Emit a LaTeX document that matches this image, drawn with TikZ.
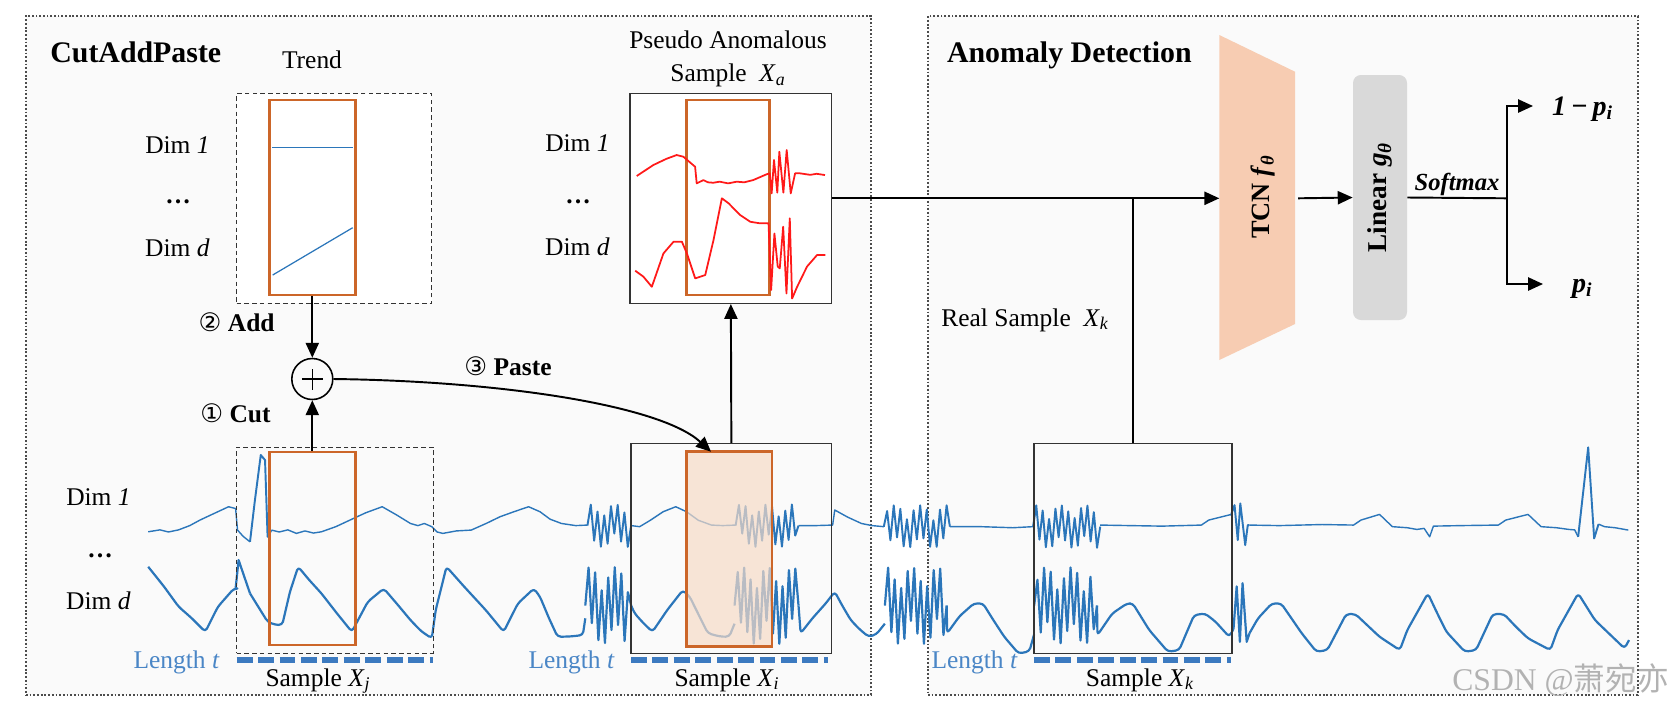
\documentclass[tikz,border=0pt]{standalone}
\usepackage{fontspec}
\setmainfont{Liberation Serif}
\newfontfamily\symfont{DejaVu Sans}
\newfontfamily\cjkfont{Noto Sans CJK SC}
\usetikzlibrary{arrows.meta,fit}
\definecolor{wblue}{RGB}{43,118,186}
\definecolor{lblue}{RGB}{74,134,198}
\definecolor{dblue}{RGB}{60,122,192}
\definecolor{oc}{RGB}{204,102,41}
\definecolor{peach}{RGB}{246,219,199}
\definecolor{tcnc}{RGB}{247,204,178}
\definecolor{linc}{RGB}{217,217,217}
\definecolor{bgc}{RGB}{250,250,250}
\definecolor{redw}{RGB}{255,25,25}
\newcommand\fs{\fontsize{14.5}{17}\selectfont}
\newcommand\fb{\fontsize{17}{20}\selectfont\bfseries}
\newcommand\mkburst[6]{%
  \pgfmathtruncatemacro\bn{(#2-#1)/3}%
  \pgfmathsetmacro\bs{(#2-#1)/\bn}%
  \pgfmathtruncatemacro\bm{\bn-1}%
  \draw[#5] (#1,#3) \foreach \k in {1,...,\bm}{ -- ({#1+\k*\bs},{#3+cos(180*\k)*#4*(0.3+0.7*abs(sin(\k*67+#6)))}) } -- (#2,#3);%
}
\begin{document}
\begin{tikzpicture}[x=0.02cm,y=-0.02cm,
  frame/.style={draw=black!70, line width=1pt, dash pattern=on 1pt off 1.1pt, fill=bgc, inner sep=0},
  dbox/.style={draw=black!80, dash pattern=on 2.6pt off 1.8pt, line width=0.5pt, inner sep=0},
  sbox/.style={draw=black!80, line width=0.8pt, inner sep=0},
  obox/.style={draw=oc, line width=1.4pt, inner sep=0},
  arr/.style={-{Triangle[length=8.5pt,width=7.5pt]}, line width=1.1pt},
  conn/.style={line width=1.1pt},
  w1/.style={draw=wblue, line width=0.8pt, line join=round},
  wb/.style={draw=wblue, line width=1.1pt, line join=round},
  wd/.style={draw=wblue, line width=1.25pt, line join=round},
  wds/.style={wd, rounded corners=2pt},
  wr/.style={draw=redw, line width=1pt, line join=round},
  lenline/.style={draw=dblue, line width=3.3pt, dash pattern=on 9pt off 3.2pt},
  lbl/.style={font=\fs, inner sep=0},
  ttl/.style={font=\fb, inner sep=0}]
\useasboundingbox (0,0) rectangle (1672,708);
\fill[white] (0,0) rectangle (1672,708);
% frames
\node[frame, fit={(26,16)(871,695)}] (fl) {};
\node[frame, fit={(928,16)(1638,695)}] (fr) {};
\node[ttl, anchor=base west] (t1) at (50,62) {CutAddPaste};
\node[ttl, anchor=base west] (t2) at (946.7,62.7) {Anomaly Detection};

% ---------- waves (coordinates in 1568-wide units) ----------
\begin{scope}[scale=1.0661]
% Dim 1
\draw[w1] (139,498.8) -- (150,497) -- (158,499) -- (167.5,497) -- (178,493) -- (187.6,487.8) -- (200,482) -- (214.4,475.3) -- (221,477) -- (222.8,497.2) -- (228,503) -- (234.5,508.2);
\draw[wb] (234.5,508.2) -- (239,470) -- (244.6,426.8) -- (248.6,431.5) -- (251,503.5) -- (254.6,497.2);
\draw[w1] (254.6,497.2) -- (262,499) -- (270,497) -- (278,500.3) -- (286,498) -- (294,500) -- (301.5,498.8) -- (315,494) -- (328.3,487.8) -- (343,481) -- (358.5,475.3) -- (372,483) -- (385,491) -- (392,493) -- (398,491) -- (405,494) -- (410,499) -- (415.4,500.3) -- (428,498) -- (442,497.2) -- (456,491) -- (469,484.7) -- (482,480) -- (495.8,475.3) -- (506.5,480) -- (516,487) -- (526.6,491) -- (540,493) -- (551,492.5);
\mkburst{551}{592}{493}{20}{wb}{10}
\draw[w1] (592,493) -- (600,494) -- (610,488) -- (622,480) -- (633.8,475.3) -- (644,480) -- (655,488) -- (667.3,492.5) -- (678,493) -- (690,492.5);
\mkburst{690}{749}{493}{20}{wb}{40}
\draw[w1] (749,493) -- (765,493) -- (781,492.5) -- (783,478.4) -- (795,485) -- (808,491) -- (818,493) -- (829,494);
\mkburst{829}{891}{494}{20}{wb}{75}
\draw[w1] (891,494) -- (920,494) -- (950,495) -- (969,494);
\mkburst{969}{1032}{494}{20}{wb}{20}
\draw[w1] (1032,492.5) -- (1060,493) -- (1090,493.5) -- (1126.9,492.5) -- (1133.8,487.8) -- (1153,483) -- (1154.7,483);
\draw[wb] (1154.7,483) -- (1158,473.8) -- (1161,506.6) -- (1163.4,472.2) -- (1168,511.3) -- (1170.4,492.5) -- (1172,492.5);
\draw[w1] (1172,492.5) -- (1200,493) -- (1240,492) -- (1269.6,492.5) -- (1276.6,487.8) -- (1294,482.5) -- (1306,494) -- (1320,495) -- (1329,496.6) -- (1335.8,495.6) -- (1341,503.5) -- (1344.5,493.5) -- (1370,493) -- (1405.4,492.5) -- (1412.4,487.8) -- (1433.3,482.5) -- (1445.5,494) -- (1460,495) -- (1471.6,496.6) -- (1477,497) -- (1480.3,503.5);
\draw[wb] (1480.3,503.5) -- (1489.7,419.6) -- (1495.3,505) -- (1499.4,491.6);
\draw[w1] (1499.4,491.6) -- (1505,494) -- (1515,495) -- (1527.3,497.2);
% Dim d
\draw[wds] (139,531.6) -- (154,550.4) -- (167.5,569) -- (180,580) -- (192.6,592.6) -- (204.4,569.1) -- (219.4,552) -- (221,552);
\draw[wd] (221,552) -- (223.8,525.3) -- (234.5,556.6);
\draw[wds] (234.5,556.6) -- (251,583.2) -- (258,586) -- (264.7,586.3) -- (272,555) -- (279.7,531.6) -- (290,544) -- (301.5,556.6) -- (315,574) -- (330,592.6) -- (345,564.4) -- (360,552) -- (372,566) -- (385,581.6) -- (395,592) -- (405,598.8) -- (408.7,572.2) -- (418.8,531.6) -- (435.5,550.4) -- (455.6,572.2) -- (472.4,592.6) -- (485.8,566) -- (500.8,552) -- (506.5,559.7) -- (515,580) -- (523,597.3) -- (535,597) -- (546.7,595.7) -- (549,580);
\mkburst{549}{592}{568}{36}{wd}{33}
\draw[wds] (592,568) -- (595.3,575.4) -- (604,585) -- (612,592.6) -- (626,572) -- (640.5,553.5) -- (647,559.7) -- (655,576) -- (664,594) -- (675,597) -- (684,597.3) -- (689,585);
\mkburst{689}{749}{568}{36}{wd}{58}
\draw[wds] (749,568) -- (751,594) -- (762,580) -- (774.5,566) -- (783,555) -- (790,568) -- (798,581.6) -- (806,590) -- (814.7,597.3) -- (822,595) -- (830,585);
\mkburst{830}{888}{568}{36}{wd}{12}
\draw[wds] (888,568) -- (888.4,594) -- (900,578) -- (913.5,566) -- (922,566) -- (932,582) -- (942,597.3) -- (955.4,613) -- (965.5,611) -- (970,595);
\mkburst{970}{1029}{568}{36}{wd}{81}
\draw[wds] (1029,568) -- (1029.4,595.7) -- (1043.3,575.4) -- (1057.2,566) -- (1062.5,566) -- (1078,591) -- (1095.5,611.3) -- (1106,609.8) -- (1120,577) -- (1130.3,575.4) -- (1140,583) -- (1153,597.3) -- (1157,590);
\draw[wd] (1157,590) -- (1160,550) -- (1163,602) -- (1165.5,547) -- (1169.4,602) -- (1172,594);
\draw[wds] (1172,594) -- (1180,580) -- (1193,566) -- (1201.7,566) -- (1210,578) -- (1221,594) -- (1234.8,611.3) -- (1245,609.8) -- (1262.7,576) -- (1271.4,576) -- (1282,586) -- (1294,597.3) -- (1313,609.8) -- (1320,591) -- (1339.3,556.6) -- (1348,575) -- (1356.7,592.6) -- (1374,611.3) -- (1384.5,609.8) -- (1400.2,576) -- (1410.7,576) -- (1422,588) -- (1433.3,598.8) -- (1454.2,609.8) -- (1461,591) -- (1480.3,556.6) -- (1496,581.6) -- (1510,595) -- (1523.8,608.2) -- (1528,600.4);
\end{scope}

% ---------- CutAddPaste: trend ----------
\node[lbl, anchor=base] (trl) at (312,68) {Trend};
\node[dbox, fill=white, fit={(236.7,93.3)(431.8,303.3)}] (trb) {};
\node[obox, fit={(269.3,100)(355.3,295)}] (otr) {};
\draw[draw=wblue, line width=0.7pt] (272,147.7) -- (353,147.7);
\draw[draw=wblue, line width=0.7pt] (272.7,275) -- (352.7,227.7);
\node[lbl, anchor=base east] (d1a) at (210,153.3) {Dim \textit{1}};
\node[lbl, anchor=base] (dta) at (178,203) {\textbf{…}};
\node[lbl, anchor=base east] (dda) at (210,256.7) {Dim \textit{d}};

% plus
\node[circle, draw, line width=0.9pt, minimum size=0.82cm, inner sep=0] (plus) at (312.3,379) {};
\draw[line width=0.9pt] ([xshift=-0.21cm]plus.center) -- ([xshift=0.21cm]plus.center);
\draw[line width=0.9pt] ([yshift=-0.21cm]plus.center) -- ([yshift=0.21cm]plus.center);
\draw[arr] (otr.south) -- (plus.north);
\node[lbl, anchor=base east] (addl) at (275,331) {{\symfont ②}\ \textbf{Add}};
\node[lbl, anchor=base east] (cutl) at (271,422) {{\symfont ①}\ \textbf{Cut}};
\node[lbl, anchor=base west] (pastel) at (464,375) {{\symfont ③}\ \textbf{Paste}};

% sample Xj
\node[dbox, fit={(236.7,447)(433,653)}] (xj) {};
\node[obox, fit={(269.3,452)(355.3,645)}] (oxj) {};
\draw[arr] (oxj.north) -- (plus.south);
\draw[lenline] (236.7,660) -- (433,660);
\node[lbl, text=lblue, anchor=base east] (lt1) at (220,668) {Length \textit{t}};
\node[lbl, anchor=base] (sj) at (318,686) {Sample \textit{X}\textsubscript{\textit{j}}};

% lower dim labels
\node[lbl, anchor=base east] (d1b) at (131,505) {Dim \textit{1}};
\node[lbl, anchor=base] (dtb) at (100,557) {\textbf{…}};
\node[lbl, anchor=base east] (ddb) at (131,609) {Dim \textit{d}};

% sample Xi
\node[sbox, fit={(631,443.5)(831.7,653.5)}] (xi) {};
\node[fit={(686.4,451.7)(772,646.7)}, fill=peach, fill opacity=0.7, draw=oc, line width=1.4pt, inner sep=0] (oxi) {};
\draw[lenline] (631,660) -- (828,660);
\node[lbl, text=lblue, anchor=base east] (lt2) at (615,668) {Length \textit{t}};
\node[lbl, anchor=base] (si) at (727,686) {Sample \textit{X}\textsubscript{\textit{i}}};
\coordinate (pastetip) at (711,451.7);
\draw[arr] (plus.east) .. controls (500,381) and (660,405) .. (pastetip);

% pseudo anomalous Xa
\node[lbl, anchor=base] (pa1) at (728,48.3) {Pseudo Anomalous};
\node[lbl, anchor=base] (pa2) at (728,81.7) {Sample\ \ \textit{X}\textsubscript{\textit{a}}};
\node[sbox, fill=white, fit={(630,93.3)(831.7,303.3)}] (xa) {};
\node[obox, fit={(686.7,100)(769.3,295)}] (oxa) {};
\node[lbl, anchor=base east] (d1c) at (610,151.7) {Dim \textit{1}};
\node[lbl, anchor=base] (dtc) at (578,203) {\textbf{…}};
\node[lbl, anchor=base east] (ddc) at (610,255) {Dim \textit{d}};
\begin{scope}[scale=1.0661]
\draw[wr] (597.2,165.1) -- (612.8,154.8) -- (625,149) -- (634.7,145.4) -- (641,147) -- (652,156.4) -- (653.5,172) -- (659.8,168.9) -- (664,171) -- (669,171.4) -- (675,170.4) -- (683,172) -- (691,170.4) -- (698,171) -- (706.5,168.9) -- (719,163.5) -- (722,162.6) -- (723.8,181.4) -- (726,150) -- (729.1,180.7) -- (731,142.3) -- (734.8,180.7) -- (737.9,140.7) -- (741.7,181.4) -- (745.8,162.6) -- (750.5,162.6) -- (760,164) -- (766,163) -- (773.8,164.2);
\draw[wr] (595.8,253.9) -- (603.5,259.5) -- (611.4,269) -- (622.3,237.7) -- (631.8,226.7) -- (639.6,226.7) -- (644.3,237.7) -- (652.1,261.1) -- (661.5,258) -- (669.3,225) -- (677.1,186) -- (683.4,190.7) -- (694.3,201.7) -- (703.7,208) -- (713,209.5) -- (720.9,209.5) -- (723.3,272) -- (726.4,219) -- (729.5,250) -- (731.4,251.7) -- (734.6,212.6) -- (737.7,275.2) -- (740.8,204.8) -- (743,280) -- (747.7,269) -- (757,250) -- (766.4,239.2) -- (774.2,239.2);
\end{scope}
\draw[arr] (xi.north) -- (xa.south);

% ---------- Anomaly detection ----------
\node[sbox, fit={(1034,443.5)(1231.8,653.5)}] (xk) {};
\draw[lenline] (1034,660) -- (1231,660);
\node[lbl, text=lblue, anchor=base east] (lt3) at (1018,668) {Length \textit{t}};
\node[lbl, anchor=base] (sk) at (1140,686) {Sample \textit{X}\textsubscript{\textit{k}}};
\node[lbl, anchor=base west] (rs) at (941,326) {Real Sample\ \ \textit{X}\textsubscript{\textit{k}}};

\fill[tcnc] (1219.3,35) -- (1295,71.7) -- (1295,324) -- (1219.3,360) -- cycle;
\coordinate (tcnin) at (1219.3,198.3);
\coordinate (tcnout) at (1298,198.3);
\node[rotate=90, inner sep=0, font=\fontsize{15}{18}\selectfont\bfseries] (tcnt) at (1263,197) {TCN \textit{f}\textsubscript{\textit{θ}}};
\draw[arr] (xa.east) -- (tcnin);
\draw[conn] (xk.north) -- (xk.north |- xa.east);

\node[fit={(1353,75)(1407,320)}, inner sep=0, fill=linc, rounded corners=4.5pt] (lin) {};
\node[rotate=90, inner sep=0, font=\fontsize{15.5}{18}\selectfont\bfseries] (lint) at (lin.center) {Linear \textit{g}\textsubscript{\textit{θ}}};
\draw[arr] (tcnout) -- (lin.west);

\coordinate (split) at (1507.3,198.3);
\coordinate (o1) at (1533,106);
\coordinate (o2) at (1543,284);
\draw[conn] (lin.east) -- (split);
\draw[arr] (split) |- (o1);
\draw[arr] (split) |- (o2);
\node[inner sep=0, anchor=base, font=\fontsize{14}{16}\selectfont\bfseries\itshape] (sm) at (1457,190) {Softmax};
\node[inner sep=0, anchor=base west, font=\fontsize{16}{18}\selectfont\bfseries\itshape] (p1) at (1551.7,115) {1\,−\,p\textsubscript{i}};
\node[inner sep=0, anchor=base west, font=\fontsize{16}{18}\selectfont\bfseries\itshape] (p2) at (1571.7,292) {p\textsubscript{i}};

% watermark
\node[inner sep=0, anchor=base west, text=black!30, font=\fontsize{18}{20}\selectfont] (wm) at (1452,690) {CSDN @{\cjkfont 萧宛亦}};
\end{tikzpicture}
\end{document}
